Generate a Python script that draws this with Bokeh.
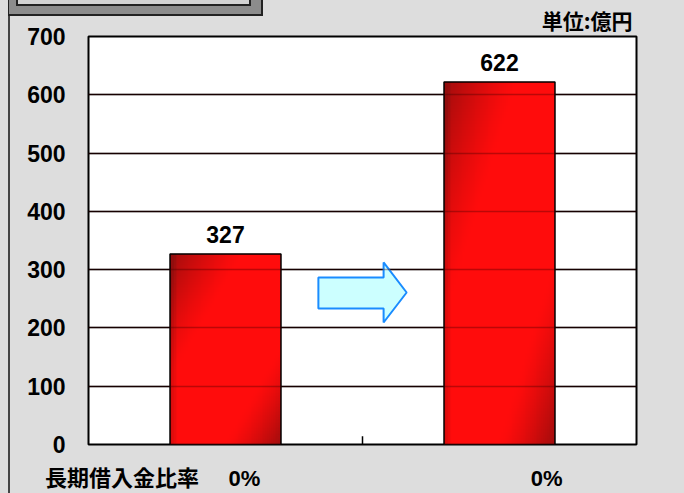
import numpy as np
from bokeh.plotting import figure
from bokeh.models import ColumnDataSource, FixedTicker, Grid, Range1d, Title
from bokeh.core.properties import value
from bokeh.embed import file_html
from bokeh.resources import INLINE

# ---- data ----
categories = ["before", "after"]
amounts = [327, 622]
ratio_labels = ["0%", "0%"]
y_ticks = [0, 100, 200, 300, 400, 500, 600, 700]
row_title = "長期借入金比率"
unit_text = "単位:億円"

# positions (x-axis units) of the table-row texts under the chart
row_title_pos = 0.122
ratio_label_pos = [0.569, 1.672]

W, H = 684, 493
p = figure(width=W, height=H, output_backend="svg", toolbar_location=None,
           x_range=Range1d(0, 2), y_range=Range1d(0, 700),
           min_border_left=88, min_border_right=48, min_border_top=36,
           min_border_bottom=49)
p.border_fill_color = None
p.background_fill_color = "white"
p.outline_line_color = "black"
p.outline_line_width = 2

# page background: light grey with the left frame line and the bevelled box
p.styles = {
    "background":
        "linear-gradient(#d2d2d2,#d2d2d2) 18px 0 / 231px 4px no-repeat,"
        "linear-gradient(#222,#222) 16px 0 / 235px 6px no-repeat,"
        "linear-gradient(#8c8c8c,#8c8c8c) 9px 0 / 252px 14px no-repeat,"
        "linear-gradient(#222,#222) 8px 0 / 255px 16px no-repeat,"
        "linear-gradient(#444,#444) 8px 15px / 2px 100% no-repeat,"
        "#dddddd"
}

NUM = "Liberation Sans"
CJK = "Noto Sans CJK JP"
MIX = "Liberation Sans, Noto Sans CJK JP"

# y axis
p.yaxis.ticker = FixedTicker(ticks=y_ticks)
p.yaxis.major_tick_line_color = None
p.yaxis.minor_tick_line_color = None
p.yaxis.axis_line_color = None
p.yaxis.major_label_text_font = NUM
p.yaxis.major_label_text_font_style = "bold"
p.yaxis.major_label_text_font_size = "23px"
p.yaxis.major_label_text_color = "black"
p.yaxis.major_label_standoff = 17

# x axis: row title + ratio labels
xticks = [row_title_pos] + ratio_label_pos
xlabels = [row_title] + ratio_labels
p.xaxis.ticker = FixedTicker(ticks=xticks)
p.xaxis.major_label_overrides = {x: lab for x, lab in zip(xticks, xlabels)}
p.xaxis.major_tick_line_color = None
p.xaxis.minor_tick_line_color = None
p.xaxis.axis_line_color = None
p.xaxis.major_label_text_font = MIX
p.xaxis.major_label_text_font_style = "bold"
p.xaxis.major_label_text_font_size = "22px"
p.xaxis.major_label_text_color = "black"
p.xaxis.major_label_standoff = 15

p.xgrid.grid_line_color = None
p.ygrid.ticker = FixedTicker(ticks=y_ticks[1:-1])
p.ygrid.grid_line_color = "black"
p.ygrid.grid_line_width = 1.5

# unit text above the frame, right aligned
p.add_layout(Title(text=unit_text, align="right", text_font=CJK,
                   text_font_style="bold", text_font_size="21px",
                   text_color="black", standoff=4, offset=4), "above")

# gradient bars
xc = [i + 0.5 for i in range(len(categories))]
bw = 0.405
def grad_img(nx=60, ny=120):
    u = np.linspace(0, 1, nx)[None, :]
    v = np.linspace(0, 1, ny)[:, None]  # row 0 = bottom
    d = (u + (1 - v)) / 2
    dark = np.clip(1 - d / 0.32, 0, 1) ** 1.2 + np.clip((d - 0.75) / 0.25, 0, 1) ** 1.3
    dark = np.clip(dark, 0, 1) * 0.6
    edge = np.clip(1 - u / 0.06, 0, 1) * 0.25
    dark = np.clip(dark + edge, 0, 0.7)
    r = (255 * (1 - dark) + 100 * dark).astype(np.uint32)
    g = (12 * (1 - dark) + 14 * dark).astype(np.uint32)
    b = (12 * (1 - dark) + 14 * dark).astype(np.uint32)
    a = np.full_like(r, 255)
    return (a << 24) | (b << 16) | (g << 8) | r

img = grad_img()
src = ColumnDataSource(dict(
    x=[c - bw / 2 for c in xc], xc=xc, y=[0] * len(amounts),
    dw=[bw] * len(amounts), dh=amounts, top=amounts,
    image=[img] * len(amounts), lab=[str(a) for a in amounts]))
p.image_rgba(image="image", x="x", y="y", dw="dw", dh="dh", source=src)
p.vbar(x="xc", top="top", width=bw, source=src, fill_color=None,
       line_color="black", line_width=1.5)

# faint grid over the bars
p.add_layout(Grid(dimension=1, ticker=FixedTicker(ticks=y_ticks[1:-1]),
                  grid_line_color="#400000", grid_line_alpha=0.35,
                  grid_line_width=1.5, level="overlay"))

p.text(x="xc", y="top", text="lab", source=src, text_align="center",
       text_baseline="bottom", y_offset=-11, text_font=value(NUM),
       text_font_style="bold", text_font_size="23px", text_color="black")

# separator tick between categories
p.segment(x0=[1], y0=[0], x1=[1], y1=[14], line_color="black", line_width=1.5)

# arrow
ax = [0.839, 1.077, 1.077, 1.161, 1.077, 1.077, 0.839]
ay = [286.5, 286.5, 312.3, 260.8, 209.3, 233.3, 233.3]
p.patch(ax, ay, fill_color="#ccffff", line_color="#1a8cff", line_width=2)

open("out.html", "w").write(file_html(p, INLINE))
